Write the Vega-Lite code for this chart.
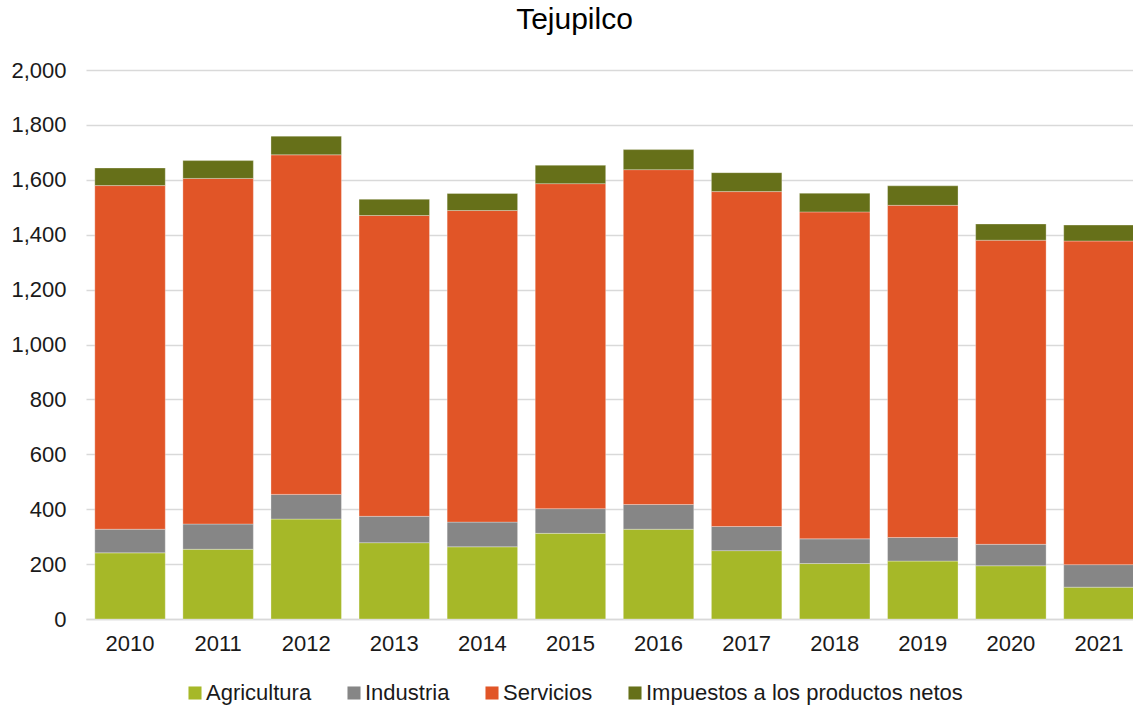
{
  "$schema": "https://vega.github.io/schema/vega-lite/v6.json",
  "autosize": {"type": "none"},
  "padding": {"left": 86, "top": 70, "right": 0, "bottom": 87},
  "width": 1047,
  "height": 549,
  "background": "white",
  "config": {
    "font": "Liberation Sans",
    "view": {"stroke": null}
  },
  "title": {
    "text": "Tejupilco",
    "fontSize": 30,
    "fontWeight": "normal",
    "color": "#000000",
    "font": "Liberation Sans",
    "anchor": "middle",
    "frame": "group",
    "dx": -35,
    "baseline": "alphabetic",
    "offset": 0
  },
  "data": {
    "values": [
      {"year": "2010", "sector": "Agricultura", "order": 1, "value": 241},
      {"year": "2010", "sector": "Industria", "order": 2, "value": 86},
      {"year": "2010", "sector": "Servicios", "order": 3, "value": 1252},
      {"year": "2010", "sector": "Impuestos a los productos netos", "order": 4, "value": 64},
      {"year": "2011", "sector": "Agricultura", "order": 1, "value": 254},
      {"year": "2011", "sector": "Industria", "order": 2, "value": 92},
      {"year": "2011", "sector": "Servicios", "order": 3, "value": 1259},
      {"year": "2011", "sector": "Impuestos a los productos netos", "order": 4, "value": 65},
      {"year": "2012", "sector": "Agricultura", "order": 1, "value": 364},
      {"year": "2012", "sector": "Industria", "order": 2, "value": 90},
      {"year": "2012", "sector": "Servicios", "order": 3, "value": 1237},
      {"year": "2012", "sector": "Impuestos a los productos netos", "order": 4, "value": 68},
      {"year": "2013", "sector": "Agricultura", "order": 1, "value": 278},
      {"year": "2013", "sector": "Industria", "order": 2, "value": 96},
      {"year": "2013", "sector": "Servicios", "order": 3, "value": 1096},
      {"year": "2013", "sector": "Impuestos a los productos netos", "order": 4, "value": 59},
      {"year": "2014", "sector": "Agricultura", "order": 1, "value": 263},
      {"year": "2014", "sector": "Industria", "order": 2, "value": 90},
      {"year": "2014", "sector": "Servicios", "order": 3, "value": 1135},
      {"year": "2014", "sector": "Impuestos a los productos netos", "order": 4, "value": 62},
      {"year": "2015", "sector": "Agricultura", "order": 1, "value": 312},
      {"year": "2015", "sector": "Industria", "order": 2, "value": 90},
      {"year": "2015", "sector": "Servicios", "order": 3, "value": 1184},
      {"year": "2015", "sector": "Impuestos a los productos netos", "order": 4, "value": 67},
      {"year": "2016", "sector": "Agricultura", "order": 1, "value": 327},
      {"year": "2016", "sector": "Industria", "order": 2, "value": 90},
      {"year": "2016", "sector": "Servicios", "order": 3, "value": 1220},
      {"year": "2016", "sector": "Impuestos a los productos netos", "order": 4, "value": 73},
      {"year": "2017", "sector": "Agricultura", "order": 1, "value": 249},
      {"year": "2017", "sector": "Industria", "order": 2, "value": 88},
      {"year": "2017", "sector": "Servicios", "order": 3, "value": 1220},
      {"year": "2017", "sector": "Impuestos a los productos netos", "order": 4, "value": 69},
      {"year": "2018", "sector": "Agricultura", "order": 1, "value": 202},
      {"year": "2018", "sector": "Industria", "order": 2, "value": 90},
      {"year": "2018", "sector": "Servicios", "order": 3, "value": 1191},
      {"year": "2018", "sector": "Impuestos a los productos netos", "order": 4, "value": 68},
      {"year": "2019", "sector": "Agricultura", "order": 1, "value": 211},
      {"year": "2019", "sector": "Industria", "order": 2, "value": 86},
      {"year": "2019", "sector": "Servicios", "order": 3, "value": 1210},
      {"year": "2019", "sector": "Impuestos a los productos netos", "order": 4, "value": 71},
      {"year": "2020", "sector": "Agricultura", "order": 1, "value": 194},
      {"year": "2020", "sector": "Industria", "order": 2, "value": 78},
      {"year": "2020", "sector": "Servicios", "order": 3, "value": 1108},
      {"year": "2020", "sector": "Impuestos a los productos netos", "order": 4, "value": 59},
      {"year": "2021", "sector": "Agricultura", "order": 1, "value": 116},
      {"year": "2021", "sector": "Industria", "order": 2, "value": 82},
      {"year": "2021", "sector": "Servicios", "order": 3, "value": 1179},
      {"year": "2021", "sector": "Impuestos a los productos netos", "order": 4, "value": 58}
    ]
  },
  "mark": {"type": "bar", "stroke": "#ffffff", "strokeWidth": 0.6, "strokeOpacity": 0.5},
  "encoding": {
    "x": {
      "field": "year",
      "type": "nominal",
      "sort": null,
      "scale": {"range": [0, 1057], "paddingInner": 0.2, "paddingOuter": 0.1},
      "axis": {
        "title": null,
        "labelAngle": 0,
        "labelFontSize": 22,
        "labelColor": "#1a1a1a",
        "labelPadding": 14,
        "ticks": false,
        "domain": true,
        "domainColor": "#d9d9d9",
        "domainWidth": 1.5,
        "grid": false
      }
    },
    "y": {
      "field": "value",
      "type": "quantitative",
      "stack": "zero",
      "scale": {"domain": [0, 2000], "nice": false},
      "axis": {
        "title": null,
        "values": [0, 200, 400, 600, 800, 1000, 1200, 1400, 1600, 1800, 2000],
        "format": ",.0f",
        "labelFontSize": 22,
        "labelColor": "#1a1a1a",
        "labelPadding": 20,
        "ticks": false,
        "domain": false,
        "grid": true,
        "gridColor": "#d9d9d9",
        "gridWidth": 1.5
      }
    },
    "color": {
      "field": "sector",
      "type": "nominal",
      "scale": {
        "domain": ["Agricultura", "Industria", "Servicios", "Impuestos a los productos netos"],
        "range": ["#a6b828", "#868686", "#e15527", "#667019"]
      },
      "legend": {
        "title": null,
        "orient": "none",
        "direction": "horizontal",
        "legendX": 98,
        "legendY": 612,
        "symbolType": "square",
        "symbolSize": 170,
        "symbolStrokeWidth": 0,
        "labelFontSize": 22,
        "labelLimit": 0,
        "labelColor": "#1a1a1a",
        "labelOffset": 0,
        "columnPadding": 31
      }
    },
    "order": {"field": "order", "type": "quantitative", "sort": "ascending"}
  }
}
